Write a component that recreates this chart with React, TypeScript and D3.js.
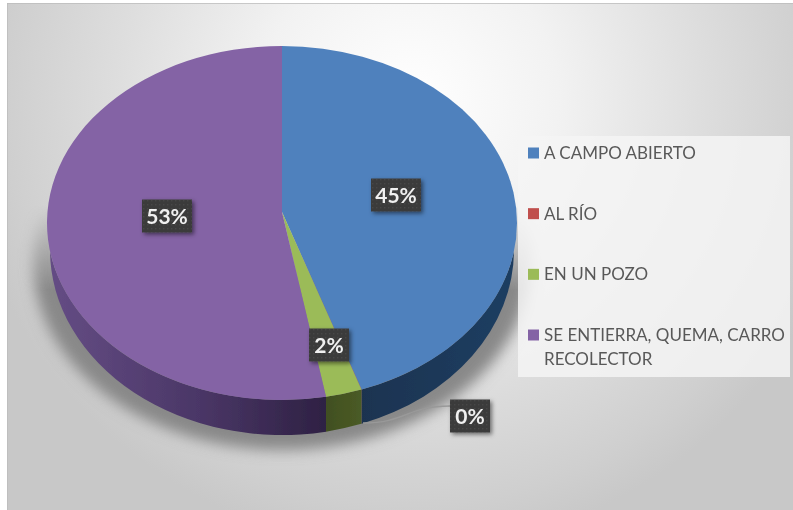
import * as d3 from "d3";

// values (the labels round them)
const categories = ["A CAMPO ABIERTO", "AL RÍO", "EN UN POZO", "SE ENTIERRA, QUEMA, CARRO RECOLECTOR"];
const shares = [44.5, 0.02, 2.48, 53.0];
const topColors = ["#4f81bd", "#c0504d", "#9bbb59", "#8463a5"];
const legendLines = [["A CAMPO ABIERTO"], ["AL RÍO"], ["EN UN POZO"], ["SE ENTIERRA, QUEMA, CARRO", "RECOLECTOR"]];

// layout, kept apart from the data
const W = 793, H = 510;
const cx = 282, cy = 223, rx = 235, ry = 177;
const apexY = 212; // perspective: the slices meet above the middle of the ellipse
const rimRx = 232, rimCy = 250, rimRy = 185; // lower edge of the rim
const labelCenters = [[396, 195], [470, 416], [329, 345], [167, 216]];
const legendY = d3.scalePoint<string>().domain(categories).range([153, 335]);
const fmt = d3.format(".0%");

const pie = d3.pie<number>().value(d => d).sort(null);
const slices = pie(shares);

function pt(a: number) {
  return [cx + rx * Math.sin(a), cy - ry * Math.cos(a)];
}

function wedge(a0: number, a1: number) {
  const [x0, y0] = pt(a0);
  const [x1, y1] = pt(a1);
  const large = a1 - a0 > Math.PI ? 1 : 0;
  return `M${cx},${apexY}L${x0},${y0}A${rx},${ry} 0 ${large} 1 ${x1},${y1}Z`;
}

function rimBottom(x: number) {
  const t = Math.min(1, Math.abs(x - cx) / rimRx);
  return rimCy + rimRy * Math.sqrt(1 - t * t);
}

// the visible rim of a slice, it only starts where the two ellipses cross
const rimStart = Math.PI - Math.asin(rimRx / rx);
const rimEnd = 2 * Math.PI - rimStart;
function wall(a0: number, a1: number) {
  const s = Math.max(a0, rimStart);
  const e = Math.min(a1, rimEnd);
  if (e <= s) return null;
  const [x0, y0] = pt(s);
  const [x1, y1] = pt(e);
  const large = e - s > Math.PI ? 1 : 0;
  return `M${x0},${y0}A${rx},${ry} 0 ${large} 1 ${x1},${y1}L${x1},${rimBottom(x1)}A${rimRx},${rimRy} 0 ${large} 0 ${x0},${rimBottom(x0)}Z`;
}

const leader = d3.line().curve(d3.curveBumpX)([[363, 423], [450, 406]]);

export default function App() {
  const font = "Lato, 'Open Sans', sans-serif";
  return (
    <svg width={W} height={H} style={{ position: "absolute", left: 0, top: 0, display: "block", background: "#fff" }}>
      <defs>
        <radialGradient id="bg" gradientUnits="userSpaceOnUse" cx={410} cy={100} r={450}>
          <stop offset="0" stopColor="#ffffff" />
          <stop offset="0.33" stopColor="#f2f2f2" />
          <stop offset="0.66" stopColor="#dddddd" />
          <stop offset="0.9" stopColor="#cfcfcf" />
          <stop offset="1" stopColor="#c8c8c8" />
        </radialGradient>
        <linearGradient id="wall0" gradientUnits="userSpaceOnUse" x1={360} x2={517} y1={0} y2={0}>
          <stop offset="0" stopColor="#1a3350" />
          <stop offset="1" stopColor="#1f3e62" />
        </linearGradient>
        <linearGradient id="wall1" gradientUnits="userSpaceOnUse" x1={360} x2={517} y1={0} y2={0}>
          <stop offset="0" stopColor="#5e2523" />
          <stop offset="1" stopColor="#5e2523" />
        </linearGradient>
        <linearGradient id="wall2" gradientUnits="userSpaceOnUse" x1={327} x2={363} y1={0} y2={0}>
          <stop offset="0" stopColor="#414f20" />
          <stop offset="1" stopColor="#4b5c26" />
        </linearGradient>
        <linearGradient id="wall3" gradientUnits="userSpaceOnUse" x1={47} x2={327} y1={0} y2={0}>
          <stop offset="0" stopColor="#654d85" />
          <stop offset="0.55" stopColor="#4a3666" />
          <stop offset="1" stopColor="#2e2143" />
        </linearGradient>
        <linearGradient id="shadowFade" gradientUnits="userSpaceOnUse" x1={0} x2={0} y1={205} y2={290}>
          <stop offset="0" stopColor="#000" />
          <stop offset="1" stopColor="#fff" />
        </linearGradient>
        <mask id="shadowMask" maskUnits="userSpaceOnUse" x={0} y={0} width={W} height={H}>
          <rect width={W} height={H} fill="url(#shadowFade)" />
        </mask>
        <filter id="soft" x="-20%" y="-20%" width="140%" height="140%">
          <feGaussianBlur stdDeviation="7" />
        </filter>
        <filter id="boxShadow" x="-30%" y="-30%" width="170%" height="170%">
          <feDropShadow dx="2" dy="2" stdDeviation="2" floodColor="#000" floodOpacity="0.5" />
        </filter>
        <filter id="photo" x="0" y="0" width="100%" height="100%">
          <feGaussianBlur stdDeviation="0.6" />
        </filter>
        <pattern id="dots" width="4" height="4" patternUnits="userSpaceOnUse">
          <rect width="4" height="4" fill="#3b3b3b" />
          <rect width="1.5" height="1.5" fill="#474747" />
        </pattern>
      </defs>

      <g filter="url(#photo)">
        <rect x={7} y={3} width={800} height={520} fill="url(#bg)" stroke="#bcbcbc" strokeWidth={1.5} />

        <g mask="url(#shadowMask)">
          <ellipse cx={cx} cy={262} rx={249} ry={188} fill="#888888" filter="url(#soft)" />
        </g>

        {slices.map((s, i) => {
          const d = wall(s.startAngle, s.endAngle);
          return d ? <path key={i} d={d} fill={`url(#wall${i})`} /> : null;
        })}

        {slices.map((s, i) => (
          <path key={i} d={wedge(s.startAngle, s.endAngle)} fill={topColors[i]} />
        ))}

        <path d={leader as string} fill="none" stroke="#999999" strokeWidth={1.4} />

        <rect x={518} y={136} width={272} height={241} fill="#f4f4f4" opacity={0.85} />
        {categories.map((c, i) => {
          const y = legendY(c) as number;
          return (
            <g key={c}>
              <rect x={528} y={y - 5.5} width={11} height={11} fill={topColors[i]} />
              <text x={544} y={y + 6} fontFamily={font} fontSize={17} fill="#595959">
                {legendLines[i].map((line, j) => (
                  <tspan key={j} x={544} dy={j === 0 ? 0 : 24}>{line}</tspan>
                ))}
              </text>
            </g>
          );
        })}

        {slices.map((s, i) => {
          const [x, y] = labelCenters[i];
          const label = fmt(s.value / 100);
          const bw = label.length > 2 ? 50 : 40;
          return (
            <g key={i} transform={`translate(${x},${y})`}>
              <rect x={-bw / 2} y={-16.5} width={bw} height={33} fill="url(#dots)" filter="url(#boxShadow)" />
              <text textAnchor="middle" y={7.5} fontFamily={font} fontWeight={700} fontSize={21} fill="#f0f0f0">
                {label}
              </text>
            </g>
          );
        })}
      </g>
    </svg>
  );
}
